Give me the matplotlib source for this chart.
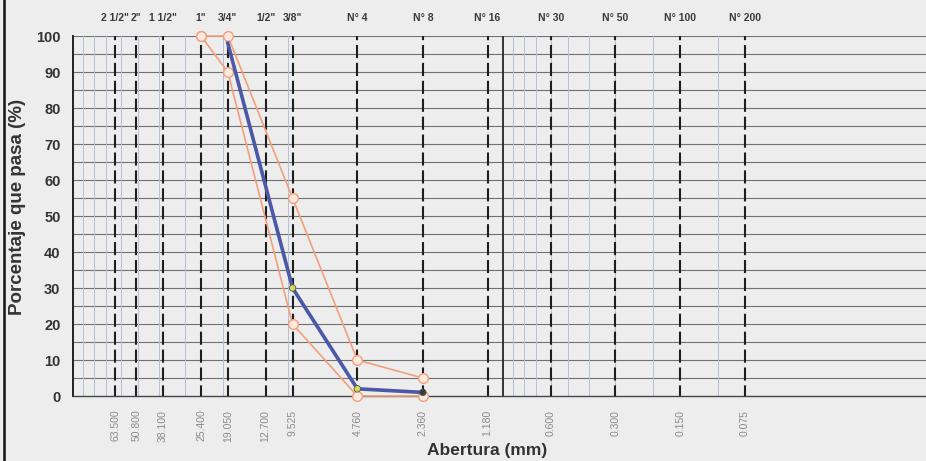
import matplotlib.pyplot as plt
import matplotlib.transforms as mtransforms
from matplotlib.lines import Line2D

plt.rcParams['font.family'] = ['Liberation Sans', 'DejaVu Sans']

# sieves (mm) and their names
sieve_names = ['2 1/2"', '2"', '1 1/2"', '1"', '3/4"', '1/2"', '3/8"',
               'N° 4', 'N° 8', 'N° 16', 'N° 30', 'N° 50', 'N° 100', 'N° 200']
sieve_mm = [63.5, 50.8, 38.1, 25.4, 19.05, 12.7, 9.525,
            4.76, 2.36, 1.18, 0.6, 0.3, 0.15, 0.075]

# sample curve
curve_mm = [19.05, 9.525, 4.76, 2.36]
curve_pct = [98, 30, 2, 1]

# specification limits
limit_mm = [25.4, 19.05, 9.525, 4.76, 2.36]
upper_pct = [100, 100, 55, 10, 5]
lower_pct = [100, 90, 20, 0, 0]

bg = '#ededed'
fig = plt.figure(figsize=(9.26, 4.61), dpi=100, facecolor=bg)
ax = fig.add_axes([73 / 926, 65 / 461, 860 / 926, 360 / 461], facecolor=bg)

ax.set_xscale('log')
ax.set_xlim(100, 0.01)
ax.set_ylim(0, 100)

# horizontal grid every 5 %
for v in range(5, 101, 5):
    ax.axhline(v, color='#707070', lw=0.8, zorder=1)

# light log grid lines (100-10 and 1-0.1)
for k in range(1, 10):
    ax.axvline(k * 10, color='#b3c0d6', lw=0.7, zorder=1)
    ax.axvline(k * 0.1, color='#b3c0d6', lw=0.7, zorder=1)
ax.axvline(1, color='#333333', lw=1.4, zorder=1)

# sieve dashed lines
ax.vlines(sieve_mm, 0, 100, colors='#1e1e1e', lw=1.5,
          linestyles=[(1.2, (6.3, 2.3))], zorder=2)

# limits
for pct in (upper_pct, lower_pct):
    ax.plot(limit_mm, pct, color='#f2a07c', lw=1.2, marker='o', ms=7,
            mfc='#fde9de', mec='#f2a07c', mew=1.0, zorder=3, clip_on=False)

# sample curve
ax.plot(curve_mm, curve_pct, color='#4a58a6', lw=2.6, zorder=4, clip_on=False)
ax.scatter(curve_mm[1:], curve_pct[1:], s=22,
           c=['#d2dc4e', '#d2dc4e', '#3a3a3a'], edgecolors='#555555',
           linewidths=0.6, zorder=5, clip_on=False)

# axes styling
for side in ('top', 'right'):
    ax.spines[side].set_visible(False)
ax.spines['left'].set_color('#222222')
ax.spines['left'].set_linewidth(1.4)
ax.spines['bottom'].set_color('#444444')
ax.spines['bottom'].set_linewidth(1.0)

ax.set_yticks(range(0, 101, 10))
ax.set_yticklabels([str(v) for v in range(0, 101, 10)],
                   fontsize=10.5, fontweight='bold', color='#333333')
ax.tick_params(axis='y', length=0, pad=9)
ax.set_xticks([])
ax.set_xticks([], minor=True)

trans = mtransforms.blended_transform_factory(ax.transData, ax.transAxes)
for name, mm in zip(sieve_names, sieve_mm):
    ax.text(mm, 1.05, name, transform=trans, ha='center', va='center',
            fontsize=7.5, fontweight='bold', color='#3a3a3a')
    ax.text(mm, -0.038, f'{mm:.3f}', transform=trans, ha='center', va='top',
            rotation=90, fontsize=7.5, color='#8a8a8a')

fig.text(18 / 926, 1 - 207 / 461, 'Porcentaje que pasa (%)', rotation=90,
         ha='center', va='center', fontsize=13.5, fontweight='bold', color='#333333')
fig.text(487 / 926, 1 - 450 / 461, 'Abertura (mm)', ha='center', va='center',
         fontsize=12.5, fontweight='bold', color='#333333')

fig.add_artist(Line2D([4 / 926, 4 / 926], [0, 1], color='#111111', lw=1.8))

fig.savefig('out.png', dpi=100, facecolor=bg)
